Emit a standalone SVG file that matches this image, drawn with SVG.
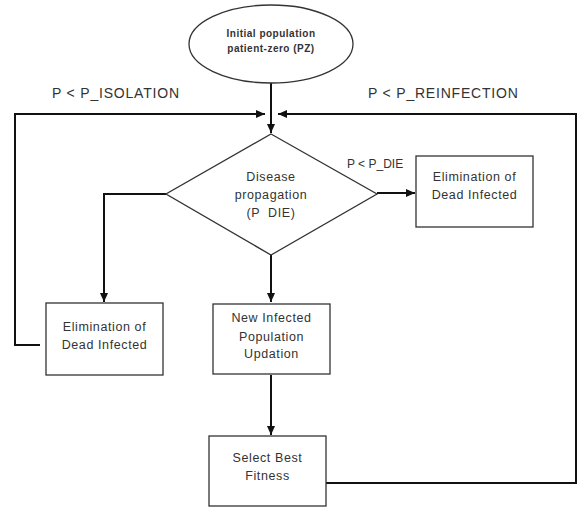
<svg xmlns="http://www.w3.org/2000/svg" width="578" height="507" viewBox="0 0 578 507">
<style>
.shape{fill:#fff;stroke:#333;stroke-width:1.3}
.conn{fill:none;stroke:#111;stroke-width:2}
text{font-family:"Liberation Sans",Arial,sans-serif;fill:#333;text-anchor:middle}
.t{font-size:12.5px;letter-spacing:0.6px}
.lbl{font-size:14px;letter-spacing:0.8px;text-anchor:start}
.small{font-size:12px;text-anchor:start}
.b{font-size:10px;font-weight:bold;letter-spacing:0.5px}
</style>
<defs>
<marker id="ah" markerUnits="userSpaceOnUse" markerWidth="10" markerHeight="8" refX="9" refY="4" orient="auto">
<path d="M0,0 L9,4 L0,8 Z" fill="#111"/>
</marker>
</defs>
<g id="connectors">
<path class="conn" d="M271,83 V133" marker-end="url(#ah)"/>
<path class="conn" d="M40,345 H15 V114 H265" marker-end="url(#ah)"/>
<path class="conn" d="M326,483 H576 V114 H278" marker-end="url(#ah)"/>
<path class="conn" d="M377,193 H415" marker-end="url(#ah)"/>
<path class="conn" d="M166,194 H104 V302" marker-end="url(#ah)"/>
<path class="conn" d="M271,255 V302" marker-end="url(#ah)"/>
<path class="conn" d="M271,375 V435" marker-end="url(#ah)"/>
</g>
<g id="start">
<ellipse class="shape" cx="271" cy="44" rx="82" ry="39"/>
<text class="b" x="271" y="37">Initial population</text>
<text class="b" x="271" y="52">patient-zero (PZ)</text>
</g>
<g id="labels">
<text class="lbl" x="52" y="98">P &lt; P_ISOLATION</text>
<text class="lbl" x="368" y="98">P &lt; P_REINFECTION</text>
<text class="small" x="347" y="168">P &lt; P_DIE</text>
</g>
<g id="propagation">
<polygon class="shape" points="271,134 377,194 271,255 166,194"/>
<text class="t" x="271" y="181">Disease</text>
<text class="t" x="271" y="199">propagation</text>
<text class="t" x="271" y="217" xml:space="preserve" style="white-space:pre">(P  DIE)</text>
</g>
<g id="elim-right">
<rect class="shape" x="416" y="156" width="117" height="71"/>
<text class="t" x="474.5" y="181">Elimination of</text>
<text class="t" x="474.5" y="199">Dead Infected</text>
</g>
<g id="elim-left">
<rect class="shape" x="46" y="303" width="117" height="72"/>
<text class="t" x="104.5" y="331">Elimination of</text>
<text class="t" x="104.5" y="349">Dead Infected</text>
</g>
<g id="new-infected">
<rect class="shape" x="213" y="304" width="117" height="70"/>
<text class="t" x="271.5" y="322">New Infected</text>
<text class="t" x="271.5" y="341">Population</text>
<text class="t" x="271.5" y="358">Updation</text>
</g>
<g id="select-best">
<rect class="shape" x="209" y="436" width="117" height="70"/>
<text class="t" x="267.5" y="462">Select Best</text>
<text class="t" x="267.5" y="480">Fitness</text>
</g>
</svg>
